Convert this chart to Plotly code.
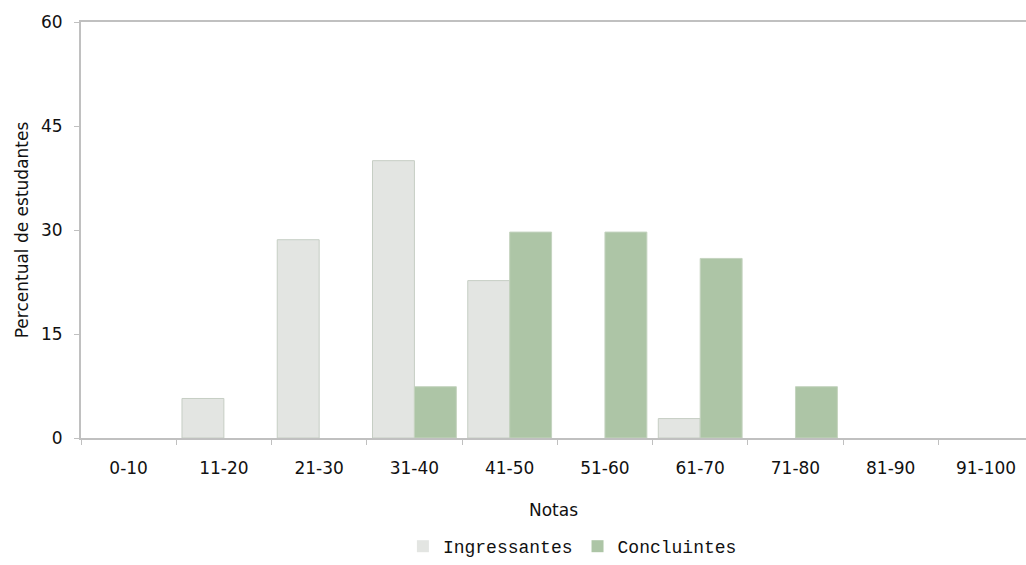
import plotly.graph_objects as go

categories = ["0-10", "11-20", "21-30", "31-40", "41-50", "51-60", "61-70", "71-80", "81-90", "91-100"]
ingressantes = [0, 5.7, 28.6, 40.0, 22.7, 0, 2.8, 0, 0, 0]
concluintes = [0, 0, 0, 7.4, 29.7, 29.7, 25.9, 7.4, 0, 0]
y_ticks = [0, 15, 30, 45, 60]


def edge_widths(values):
    return [0 if v == 0 else 1 for v in values]


fig = go.Figure()
fig.add_trace(go.Bar(
    x=categories, y=ingressantes, name="Ingressantes",
    marker=dict(color="#e3e5e2", line=dict(color="#c6cec4", width=edge_widths(ingressantes))),
))
fig.add_trace(go.Bar(
    x=categories, y=concluintes, name="Concluintes",
    marker=dict(color="#adc5a6", line=dict(color="#c4d3bf", width=edge_widths(concluintes))),
))

axis_font = dict(family="DejaVu Sans, Arial, sans-serif", size=17, color="#111111")

fig.update_layout(
    width=1026, height=565,
    margin=dict(l=81, r=0, t=22, b=127),
    paper_bgcolor="white", plot_bgcolor="white",
    barmode="group", bargap=0.12, bargroupgap=0,
    font=axis_font,
    showlegend=True,
    legend=dict(
        orientation="h", x=0.52, xanchor="center", xref="paper",
        y=0.0, yref="container", yanchor="bottom",
        font=dict(family="Liberation Mono, Courier New, monospace", size=18, color="#111111"),
        itemwidth=30, tracegroupgap=0,
    ),
    xaxis=dict(
        type="category", range=[-0.5, 9.42],
        showline=True, linecolor="#c0c0c0", linewidth=2, mirror=True,
        ticks="outside", tickson="boundaries", ticklen=5, tickcolor="#c0c0c0", tickwidth=1,
        ticklabelstandoff=14,
        showgrid=False, zeroline=False,
        title=dict(text="Notas", font=axis_font, standoff=27),
        tickfont=axis_font,
    ),
    yaxis=dict(
        range=[0, 60], tickvals=y_ticks,
        showline=True, linecolor="#c0c0c0", linewidth=2,
        ticks="outside", ticklen=5, tickcolor="#c0c0c0", tickwidth=1,
        ticklabelstandoff=8,
        showgrid=False, zeroline=False,
        title=dict(text="Percentual de estudantes", font=axis_font, standoff=8),
        tickfont=axis_font,
    ),
)

fig.write_html(
    "out.html",
    config={"displayModeBar": False},
    post_script="document.body.style.margin='0';document.body.style.overflow='hidden';",
)
